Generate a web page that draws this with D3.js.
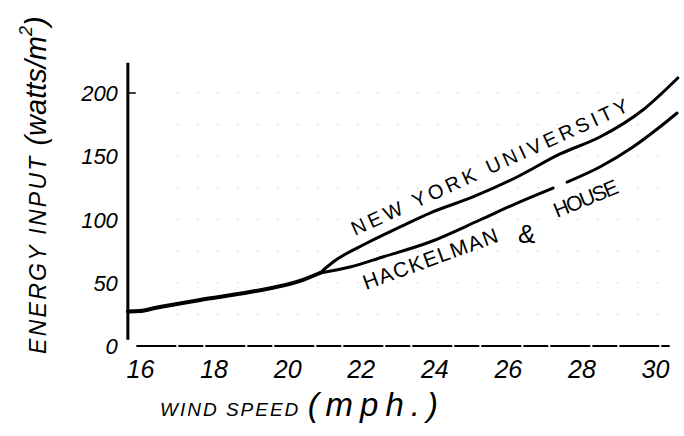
<!DOCTYPE html>
<html><head><meta charset="utf-8">
<script src="https://cdn.jsdelivr.net/npm/d3@7"></script>
<style>
html,body{margin:0;padding:0;background:#fff;}
svg{display:block;}
text{font-family:"Liberation Sans",Arial,sans-serif;font-style:italic;fill:#000;}
</style></head>
<body>
<svg id="chart" width="684" height="436"></svg>
<script>
// ---- data ----
const xTicks = [16, 18, 20, 22, 24, 26, 28, 30];
const yTicks = [0, 50, 100, 150, 200];
const gridValues = [25, 50, 75, 100, 125, 150, 175, 200];
// shared part of both curves (wind speed mph, energy W/m2)
const commonSpeed = [15.67, 16.0, 16.4, 17.63, 18.99, 20.35, 20.89];
const commonEnergy = [27.3, 27.6, 30.0, 36.4, 42.7, 51.4, 57.7];
// New York University
const nyuSpeed  = [20.89, 21.25, 22.17, 23.07, 23.88, 25.05, 26.25, 27.42, 28.5, 29.67, 30.62];
const nyuEnergy = [57.7, 66.4, 81.4, 94.1, 105.1, 117.8, 133.6, 151.8, 165.2, 186.6, 211.9];
// Hackelman & House (null = pen lifted)
const hhSpeed  = [20.89, 21.71, 22.6, 23.88, 25.24, 26.25, 27.23, 27.4, 27.61, 28.5, 29.4, 30.13, 30.6];
const hhEnergy = [57.7, 62.5, 70.4, 82.2, 99.6, 113.0, 124.9, null, 129.6, 141.5, 157.3, 173.1, 184.2];

const svg = d3.select("#chart");
const x = d3.scaleLinear().domain([16, 30]).range([140, 655]);
const y = d3.scaleLinear().domain([0, 200]).range([346, 93]);

// faint grid
svg.append("g").selectAll("line").data(gridValues).join("line")
  .attr("x1", x(17)).attr("x2", x(30.6))
  .attr("y1", d => y(d)).attr("y2", d => y(d))
  .attr("stroke", "#d4d4d4").attr("stroke-width", 1)
  .attr("stroke-dasharray", "2,18");

// y axis
const yAxisX = x(15.67);
svg.append("line").attr("x1", yAxisX).attr("x2", yAxisX)
  .attr("y1", y(224)).attr("y2", y(5))
  .attr("stroke", "#000").attr("stroke-width", 3);
svg.append("line").attr("x1", yAxisX).attr("x2", yAxisX + 8)
  .attr("y1", y(200)).attr("y2", y(200))
  .attr("stroke", "#000").attr("stroke-width", 1.5);
const ya = svg.append("g").attr("transform", `translate(${yAxisX - 8},0)`)
  .call(d3.axisLeft(y).tickValues(yTicks).tickSize(0).tickPadding(2));
ya.select(".domain").remove();
ya.selectAll("text").style("font-size", "22px").style("font-family", "'Liberation Sans',sans-serif")
  .attr("dy", "0.35em");

// x axis
svg.append("line").attr("x1", x(15.9)).attr("x2", x(30.4))
  .attr("y1", y(0)).attr("y2", y(0))
  .attr("stroke", "#000").attr("stroke-width", 2)
  .attr("stroke-dasharray", "40,2,25,2");
const xa = svg.append("g").attr("transform", `translate(0,${y(0) + 14})`)
  .call(d3.axisBottom(x).tickValues(xTicks).tickSize(0).tickPadding(0).tickFormat(d3.format("d")));
xa.select(".domain").remove();
xa.selectAll("text").style("font-size", "25px").style("font-family", "'Liberation Sans',sans-serif")
  .attr("dy", "0.71em");

// curves
const line = d3.line().defined(d => d[1] != null)
  .x(d => x(d[0])).y(d => y(d[1])).curve(d3.curveMonotoneX);
const common = commonSpeed.map((s, i) => [s, commonEnergy[i]]);
const nyu = nyuSpeed.map((s, i) => [s, nyuEnergy[i]]);
const hh = hhSpeed.map((s, i) => [s, hhEnergy[i]]);
svg.append("path").attr("d", line(common)).attr("fill", "none")
  .attr("stroke", "#000").attr("stroke-width", 4).attr("stroke-linecap", "round");
svg.append("path").attr("d", line(nyu)).attr("fill", "none")
  .attr("stroke", "#000").attr("stroke-width", 3).attr("stroke-linecap", "round");
svg.append("path").attr("d", line(hh)).attr("fill", "none")
  .attr("stroke", "#000").attr("stroke-width", 3).attr("stroke-linecap", "round");

// curve labels
svg.append("text").attr("transform", "translate(355,236) rotate(-24.5)")
  .attr("textLength", 302).attr("lengthAdjust", "spacing")
  .style("font-size", "20px").style("font-style", "normal")
  .text("NEW YORK UNIVERSITY");
svg.append("text").attr("transform", "translate(366,290) rotate(-20)")
  .attr("textLength", 142).attr("lengthAdjust", "spacing")
  .style("font-size", "21px").style("font-style", "normal")
  .text("HACKELMAN");
svg.append("text").attr("transform", "translate(518,243)")
  .style("font-size", "26px").style("font-style", "normal")
  .text("&");
svg.append("text").attr("transform", "translate(557,218) rotate(-22)")
  .attr("textLength", 68).attr("lengthAdjust", "spacing")
  .style("font-size", "21px").style("font-style", "normal")
  .text("HOUSE");

// axis titles
const xt = svg.append("text").attr("x", 160).attr("y", 416);
xt.append("tspan").style("font-size", "19px").attr("letter-spacing", "2").text("WIND SPEED ");
xt.append("tspan").style("font-size", "33px").attr("letter-spacing", "7").text("(mph.)");

const yt = svg.append("text").attr("transform", "translate(46,354) rotate(-90)");
yt.append("tspan").style("font-size", "23px").attr("letter-spacing", "2.3").text("ENERGY INPUT ");
yt.append("tspan").style("font-size", "29px").text("(watts/m");
yt.append("tspan").style("font-size", "18px").attr("dy", "-14").text("2");
yt.append("tspan").style("font-size", "29px").attr("dy", "14").text(")");
</script>
</body></html>
